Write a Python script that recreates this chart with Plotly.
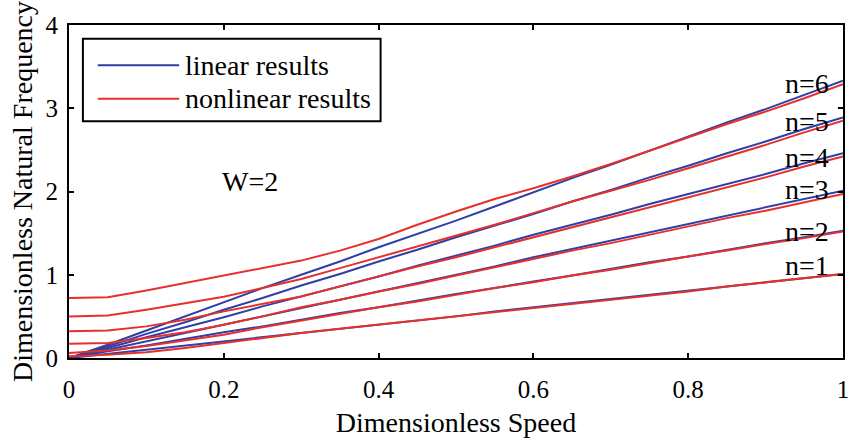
import plotly.graph_objects as go

speed = [0.0, 0.05, 0.10, 0.15, 0.20, 0.25, 0.30, 0.35, 0.40, 0.45, 0.50,
         0.55, 0.60, 0.65, 0.70, 0.75, 0.80, 0.85, 0.90, 0.95, 1.00]

# linear results (blue), n = 1..6
lin_n1 = [0, 0.05, 0.10, 0.15, 0.20, 0.25, 0.30, 0.35, 0.40, 0.45, 0.50, 0.56, 0.61, 0.66, 0.71, 0.76, 0.81, 0.86, 0.91, 0.96, 1.01]
lin_n2 = [0, 0.08, 0.15, 0.23, 0.31, 0.38, 0.46, 0.54, 0.61, 0.69, 0.77, 0.84, 0.92, 0.99, 1.07, 1.15, 1.22, 1.30, 1.38, 1.45, 1.53]
lin_n3 = [0, 0.10, 0.20, 0.30, 0.40, 0.50, 0.60, 0.70, 0.80, 0.90, 1.00, 1.10, 1.21, 1.31, 1.41, 1.51, 1.61, 1.71, 1.81, 1.91, 2.01]
lin_n4 = [0, 0.12, 0.25, 0.37, 0.49, 0.62, 0.74, 0.86, 0.98, 1.11, 1.23, 1.35, 1.48, 1.60, 1.72, 1.85, 1.97, 2.09, 2.21, 2.34, 2.46]
lin_n5 = [0, 0.14, 0.29, 0.43, 0.58, 0.72, 0.87, 1.01, 1.16, 1.30, 1.45, 1.59, 1.73, 1.88, 2.02, 2.17, 2.31, 2.46, 2.60, 2.75, 2.89]
lin_n6 = [0, 0.16, 0.33, 0.50, 0.67, 0.84, 1.00, 1.16, 1.33, 1.49, 1.65, 1.82, 1.99, 2.16, 2.32, 2.49, 2.66, 2.83, 2.99, 3.16, 3.33]

# nonlinear results (red), n = 1..6
non_n1 = [0.02, 0.04, 0.07, 0.12, 0.18, 0.24, 0.30, 0.35, 0.40, 0.45, 0.50, 0.55, 0.60, 0.65, 0.70, 0.75, 0.80, 0.86, 0.91, 0.96, 1.01]
non_n2 = [0.06, 0.09, 0.145, 0.21, 0.28, 0.37, 0.45, 0.53, 0.61, 0.68, 0.76, 0.84, 0.91, 0.99, 1.06, 1.14, 1.22, 1.29, 1.37, 1.44, 1.52]
non_n3 = [0.17, 0.18, 0.24, 0.31, 0.40, 0.50, 0.61, 0.70, 0.80, 0.89, 0.99, 1.09, 1.19, 1.29, 1.38, 1.48, 1.58, 1.68, 1.77, 1.87, 1.97]
non_n4 = [0.32, 0.33, 0.38, 0.46, 0.56, 0.65, 0.74, 0.86, 0.98, 1.10, 1.21, 1.33, 1.45, 1.57, 1.69, 1.81, 1.93, 2.05, 2.17, 2.30, 2.42]
non_n5 = [0.50, 0.51, 0.58, 0.66, 0.735, 0.84, 0.95, 1.08, 1.21, 1.34, 1.47, 1.60, 1.74, 1.88, 2.01, 2.14, 2.28, 2.42, 2.56, 2.71, 2.85]
non_n6 = [0.72, 0.73, 0.81, 0.90, 0.99, 1.08, 1.17, 1.29, 1.43, 1.60, 1.76, 1.91, 2.04, 2.18, 2.33, 2.49, 2.65, 2.81, 2.96, 3.12, 3.29]

mode_labels = ["n=1", "n=2", "n=3", "n=4", "n=5", "n=6"]
label_y = [1.11, 1.52, 2.03, 2.41, 2.84, 3.30]

BLUE = "#2f3fa8"
RED = "#e5302b"
FONT = "Liberation Serif"

fig = go.Figure()
for ys in [lin_n1, lin_n2, lin_n3, lin_n4, lin_n5, lin_n6]:
    fig.add_trace(go.Scatter(x=speed, y=ys, mode="lines", name="linear results",
                             line=dict(color=BLUE, width=2), showlegend=False,
                             legendgroup="lin"))
for ys in [non_n1, non_n2, non_n3, non_n4, non_n5, non_n6]:
    fig.add_trace(go.Scatter(x=speed, y=ys, mode="lines", name="nonlinear results",
                             line=dict(color=RED, width=2), showlegend=False,
                             legendgroup="non"))

for lab, yv in zip(mode_labels, label_y):
    fig.add_annotation(x=0.953, y=yv, text=lab, showarrow=False,
                       xanchor="center", yanchor="middle",
                       font=dict(family=FONT, size=28, color="black"))

fig.add_annotation(x=0.234, y=2.12, text="W=2", showarrow=False,
                   xanchor="center", yanchor="middle",
                   font=dict(family=FONT, size=28, color="black"))

# custom legend box (paper coords)
W, H = 780.0, 339.0
def px(xp): return (xp - 69) / W
def py(yp): return (364 - yp) / H

fig.add_shape(type="rect", xref="paper", yref="paper",
              x0=px(83), x1=px(383), y0=py(123), y1=py(39),
              line=dict(color="black", width=2), fillcolor="white", layer="above")
legend_items = [("linear results", BLUE, 66), ("nonlinear results", RED, 100)]
for text, col, yy in legend_items:
    fig.add_shape(type="line", xref="paper", yref="paper",
                  x0=px(98), x1=px(180), y0=py(yy), y1=py(yy),
                  line=dict(color=col, width=2), layer="above")
    fig.add_annotation(xref="paper", yref="paper", x=px(184), y=py(yy),
                       text=text, showarrow=False, xanchor="left", yanchor="middle",
                       font=dict(family=FONT, size=28, color="black"))

axis_common = dict(showline=True, linecolor="black", linewidth=2, mirror="allticks",
                   ticks="inside", ticklen=5, tickwidth=2, tickcolor="black",
                   showgrid=False, zeroline=False,
                   tickfont=dict(family=FONT, size=25, color="black"))

fig.update_xaxes(range=[0, 1], tickvals=[0, 0.2, 0.4, 0.6, 0.8, 1],
                 ticktext=["0", "0.2", "0.4", "0.6", "0.8", "1"],
                 title=dict(text="Dimensionless Speed", standoff=10,
                            font=dict(family=FONT, size=28, color="black")),
                 ticklabelstandoff=8, **axis_common)
fig.update_yaxes(range=[0, 4], tickvals=[0, 1, 2, 3, 4],
                 ticktext=["0", "1", "2", "3", "4"],
                 title=dict(text="Dimensionless Natural Frequency", standoff=5,
                            font=dict(family=FONT, size=28, color="black")),
                 ticklabelstandoff=4, **axis_common)

fig.update_layout(width=856, height=440, margin=dict(l=69, r=7, t=25, b=76),
                  plot_bgcolor="white", paper_bgcolor="white", showlegend=False)

fig.write_html("out.html")
